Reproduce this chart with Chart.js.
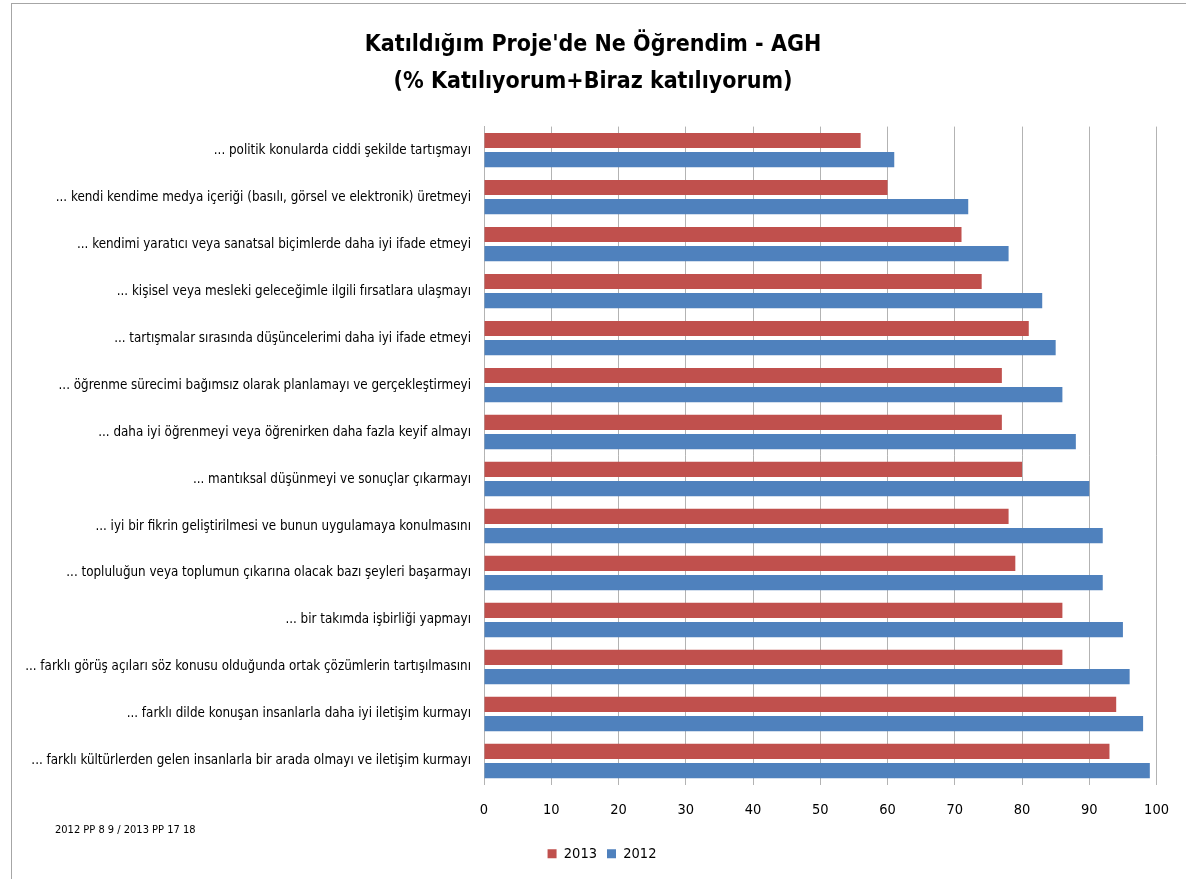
<!DOCTYPE html>
<html>
<head>
<meta charset="utf-8">
<script src="https://cdn.jsdelivr.net/npm/chart.js@4/dist/chart.umd.min.js"></script>
<style>
  html, body { margin: 0; padding: 0; background: #fff; }
  #wrap { position: relative; width: 1186px; height: 879px; overflow: hidden; }
  #frame { position: absolute; left: 11px; top: 3px; right: -2px; bottom: -2px;
           border-top: 1px solid #a6a6a6; border-left: 1px solid #a6a6a6; }
  #chart { position: absolute; left: 0; top: 0; }
  #note { position: absolute; left: 55px; top: 823px; font: 11px 'Liberation Sans Narrow', 'DejaVu Sans Condensed', sans-serif; color: #000; }
</style>
</head>
<body>
<div id="wrap">
  <div id="frame"></div>
  <canvas id="chart" width="1186" height="879"></canvas>
  <div id="note">2012 PP 8 9 / 2013 PP 17 18</div>
</div>
<script>
// categories, top to bottom
const categories = [
  "... politik konularda ciddi şekilde tartışmayı",
  "... kendi kendime medya içeriği (basılı, görsel ve elektronik) üretmeyi",
  "... kendimi yaratıcı veya sanatsal biçimlerde daha iyi ifade etmeyi",
  "... kişisel veya mesleki geleceğimle ilgili fırsatlara ulaşmayı",
  "... tartışmalar sırasında düşüncelerimi daha iyi ifade etmeyi",
  "... öğrenme sürecimi bağımsız olarak planlamayı ve gerçekleştirmeyi",
  "... daha iyi öğrenmeyi veya öğrenirken daha fazla keyif almayı",
  "... mantıksal düşünmeyi ve sonuçlar çıkarmayı",
  "... iyi bir fikrin geliştirilmesi ve bunun uygulamaya konulmasını",
  "... topluluğun veya toplumun çıkarına olacak bazı şeyleri başarmayı",
  "... bir takımda işbirliği yapmayı",
  "... farklı görüş açıları söz konusu olduğunda ortak çözümlerin tartışılmasını",
  "... farklı dilde konuşan insanlarla daha iyi iletişim kurmayı",
  "... farklı kültürlerden gelen insanlarla bir arada olmayı ve iletişim kurmayı"
];
const values2013 = [56, 60, 71, 74, 81, 77, 77, 80, 78, 79, 86, 86, 94, 93];
const values2012 = [61, 72, 78, 83, 85, 86, 88, 90, 92, 92, 95, 96, 98, 99];
const seriesNames = ["2013", "2012"];
const titleLines = ["Katıldığım Proje'de Ne Öğrendim - AGH", "(% Katılıyorum+Biraz katılıyorum)"];

Chart.defaults.font.family = "'Liberation Sans Narrow', 'DejaVu Sans Condensed', sans-serif";
Chart.defaults.color = "#000";

const padLeft = 26;

// nudge the legend a little to the right, like the original
const legendShift = {
  id: "legendShift",
  afterLayout(chart) {
    chart.legend.left += 9;
    chart.legend.right += 9;
  }
};

const ctx = document.getElementById("chart").getContext("2d");
new Chart(ctx, {
  type: "bar",
  data: {
    labels: categories,
    datasets: [
      { label: seriesNames[0], data: values2013, backgroundColor: "#C0504D" },
      { label: seriesNames[1], data: values2012, backgroundColor: "#4F81BD" }
    ]
  },
  options: {
    indexAxis: "y",
    responsive: false,
    animation: false,
    categoryPercentage: 0.817,
    barPercentage: 0.79,
    layout: { padding: { left: padLeft, right: 26, top: 0, bottom: 8 } },
    plugins: {
      title: {
        display: true,
        text: titleLines,
        font: { size: 23, weight: "bold", lineHeight: 1.6 },
        color: "#000",
        padding: { top: 27, bottom: 26 }
      },
      legend: {
        position: "bottom",
        labels: { boxWidth: 9, boxHeight: 9, padding: 10, font: { size: 14.5 } }
      },
      tooltip: { enabled: false }
    },
    scales: {
      x: {
        min: 0,
        max: 100,
        ticks: { stepSize: 10, padding: 17, font: { size: 14.5 } },
        grid: { color: "#b3b3b3", drawTicks: false },
        border: { display: false },
        afterFit: function (scale) { scale.height = 52; }
      },
      y: {
        ticks: { padding: 13, font: { size: 13.3 } },
        grid: { display: false, drawTicks: false },
        border: { display: true, color: "#b3b3b3" },
        afterFit: function (scale) { scale.width = 484 - padLeft; }
      }
    }
  },
  plugins: [legendShift]
});
</script>
</body>
</html>
